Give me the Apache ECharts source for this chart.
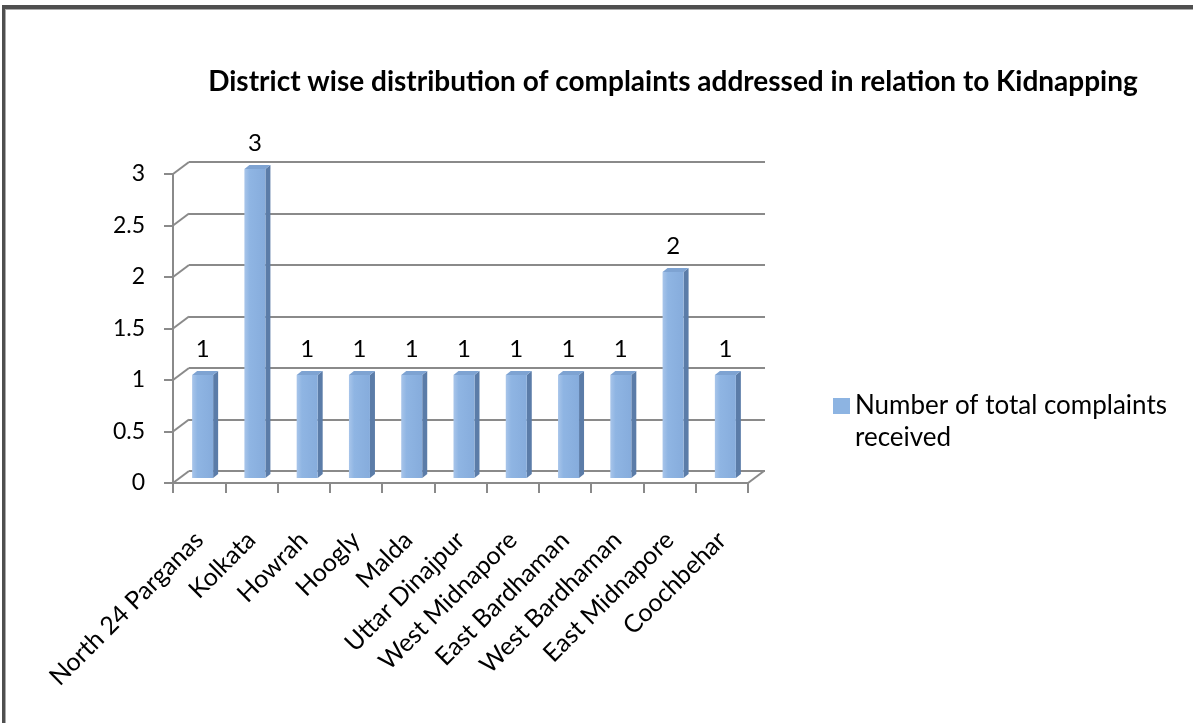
<!DOCTYPE html>
<html>
<head>
<meta charset="utf-8">
<script src="https://cdn.jsdelivr.net/npm/echarts@6/dist/echarts.min.js"></script>
<style>
  html, body { margin: 0; padding: 0; background: #fff; }
  #chart { position: absolute; left: 0; top: 0; width: 1193px; height: 723px; }
  #frame { position: absolute; left: 2px; top: 5px; width: 1191px; height: 718px;
           border-top: 4px solid #4f4f4f; border-left: 3px solid #4f4f4f;
           box-shadow: inset 1px 1px 0 #aaa; pointer-events: none; box-sizing: border-box; }
</style>
</head>
<body>
<div id="chart"></div>
<div id="frame"></div>
<script>
const titleText = 'District wise distribution of complaints addressed in relation to Kidnapping';
const seriesName = 'Number of total complaints received';
const categories = ['North 24 Parganas', 'Kolkata', 'Howrah', 'Hoogly', 'Malda', 'Uttar Dinajpur',
  'West Midnapore', 'East Bardhaman', 'West Bardhaman', 'East Midnapore', 'Coochbehar'];
const complaints = [1, 3, 1, 1, 1, 1, 1, 1, 1, 2, 1];
const yTicks = [0, 0.5, 1, 1.5, 2, 2.5, 3];

const FONT = 'Lato, "Open Sans", sans-serif';
const GRID_GRAY = '#8a8a8a';
const DEPTH = [16, -12];

const chart = echarts.init(document.getElementById('chart'), null, { renderer: 'canvas' });

const frontFill = new echarts.graphic.LinearGradient(0, 0, 1, 0, [
  { offset: 0, color: '#a8c5ea' },
  { offset: 0.25, color: '#8fb5e3' },
  { offset: 1, color: '#86acdc' }
]);

function renderBar(params, api) {
  const i = api.value(0), v = api.value(1);
  const base = api.coord([i, 0]);
  const top = api.coord([i, v]);
  const cx = base[0];
  const L = cx - 7, R = cx + 14;
  const yb = base[1] - 5, yt = top[1] - 5;
  const dx = 5, dy = -4;
  return {
    type: 'group',
    children: [
      { type: 'polygon', shape: { points: [[R, yt], [R + dx, yt + dy], [R + dx, yb + dy], [R, yb]] },
        style: { fill: '#5b7ca8' } },
      { type: 'polygon', shape: { points: [[L, yt], [L + dx, yt + dy], [R + dx, yt + dy], [R, yt]] },
        style: { fill: '#7ea3d2' } },
      { type: 'rect', shape: { x: L, y: yt, width: R - L, height: yb - yt },
        style: { fill: frontFill } },
      { type: 'text', style: { text: String(v), x: (L + R) / 2, y: yt - 14,
        align: 'center', verticalAlign: 'bottom', fontSize: 24, fontFamily: FONT, fill: '#000' } }
    ]
  };
}

function renderConnector(params, api) {
  const i = api.value(0), v = api.value(1), side = api.value(2);
  const p = api.coord([i, v]);
  const half = api.size([1, 0])[0] / 2;
  const x = p[0] + side * half;
  return {
    type: 'line',
    shape: { x1: x, y1: p[1], x2: x + DEPTH[0], y2: p[1] + DEPTH[1] },
    style: { stroke: GRID_GRAY, lineWidth: 2 }
  };
}

const connectorData = yTicks.map(v => [0, v, -1]).concat([[categories.length - 1, 0, 1]]);

const option = {
  backgroundColor: '#ffffff',
  animation: false,
  title: {
    text: titleText,
    left: 668, textAlign: 'center', top: 63,
    textStyle: { fontFamily: FONT, fontSize: 28, fontWeight: 'bold', color: '#000' }
  },
  legend: {
    data: [seriesName],
    left: 828, top: 356, orient: 'vertical',
    icon: 'rect', itemWidth: 17, itemHeight: 16,
    formatter: () => '{s| }\n{a|Number of total complaints}\n{a|received}',
    textStyle: {
      fontFamily: FONT, fontSize: 26, color: '#000',
      rich: {
        s: { fontSize: 26, lineHeight: 32, fontFamily: FONT },
        a: { fontSize: 26, lineHeight: 32, fontFamily: FONT, color: '#000' }
      }
    }
  },
  grid: [
    { left: 173, right: 445, top: 174, bottom: 240 },
    { left: 189, right: 428, top: 162, bottom: 252 }
  ],
  xAxis: [
    { type: 'category', gridIndex: 0, data: categories, boundaryGap: true,
      axisLine: { show: true, lineStyle: { color: GRID_GRAY, width: 2 } },
      axisTick: { show: true, interval: 0, length: 10, lineStyle: { color: GRID_GRAY, width: 2 } },
      axisLabel: { interval: 0, rotate: 45, margin: 53, fontFamily: FONT, fontSize: 25, color: '#000' },
      splitLine: { show: false }, z: 2 },
    { type: 'category', gridIndex: 1, data: categories, show: false }
  ],
  yAxis: [
    { type: 'value', gridIndex: 0, min: yTicks[0], max: yTicks[yTicks.length - 1], interval: 0.5,
      axisLine: { show: true, lineStyle: { color: GRID_GRAY, width: 2 } },
      axisTick: { show: true, length: 9, lineStyle: { color: GRID_GRAY, width: 2 } },
      axisLabel: { margin: 28, fontFamily: FONT, fontSize: 23, color: '#000' },
      splitLine: { show: false }, z: 2 },
    { type: 'value', gridIndex: 1, min: yTicks[0], max: yTicks[yTicks.length - 1], interval: 0.5,
      axisLine: { show: false }, axisTick: { show: false }, axisLabel: { show: false },
      splitLine: { show: true, lineStyle: { color: GRID_GRAY, width: 2 } } }
  ],
  series: [
    { type: 'custom', name: 'connectors', xAxisIndex: 0, yAxisIndex: 0,
      data: connectorData, renderItem: renderConnector, silent: true, z: 1 },
    { type: 'custom', name: seriesName, xAxisIndex: 0, yAxisIndex: 0,
      data: complaints.map((v, i) => [i, v]), renderItem: renderBar,
      itemStyle: { color: '#8db4e2' }, z: 5 }
  ]
};
chart.setOption(option);
</script>
</body>
</html>
